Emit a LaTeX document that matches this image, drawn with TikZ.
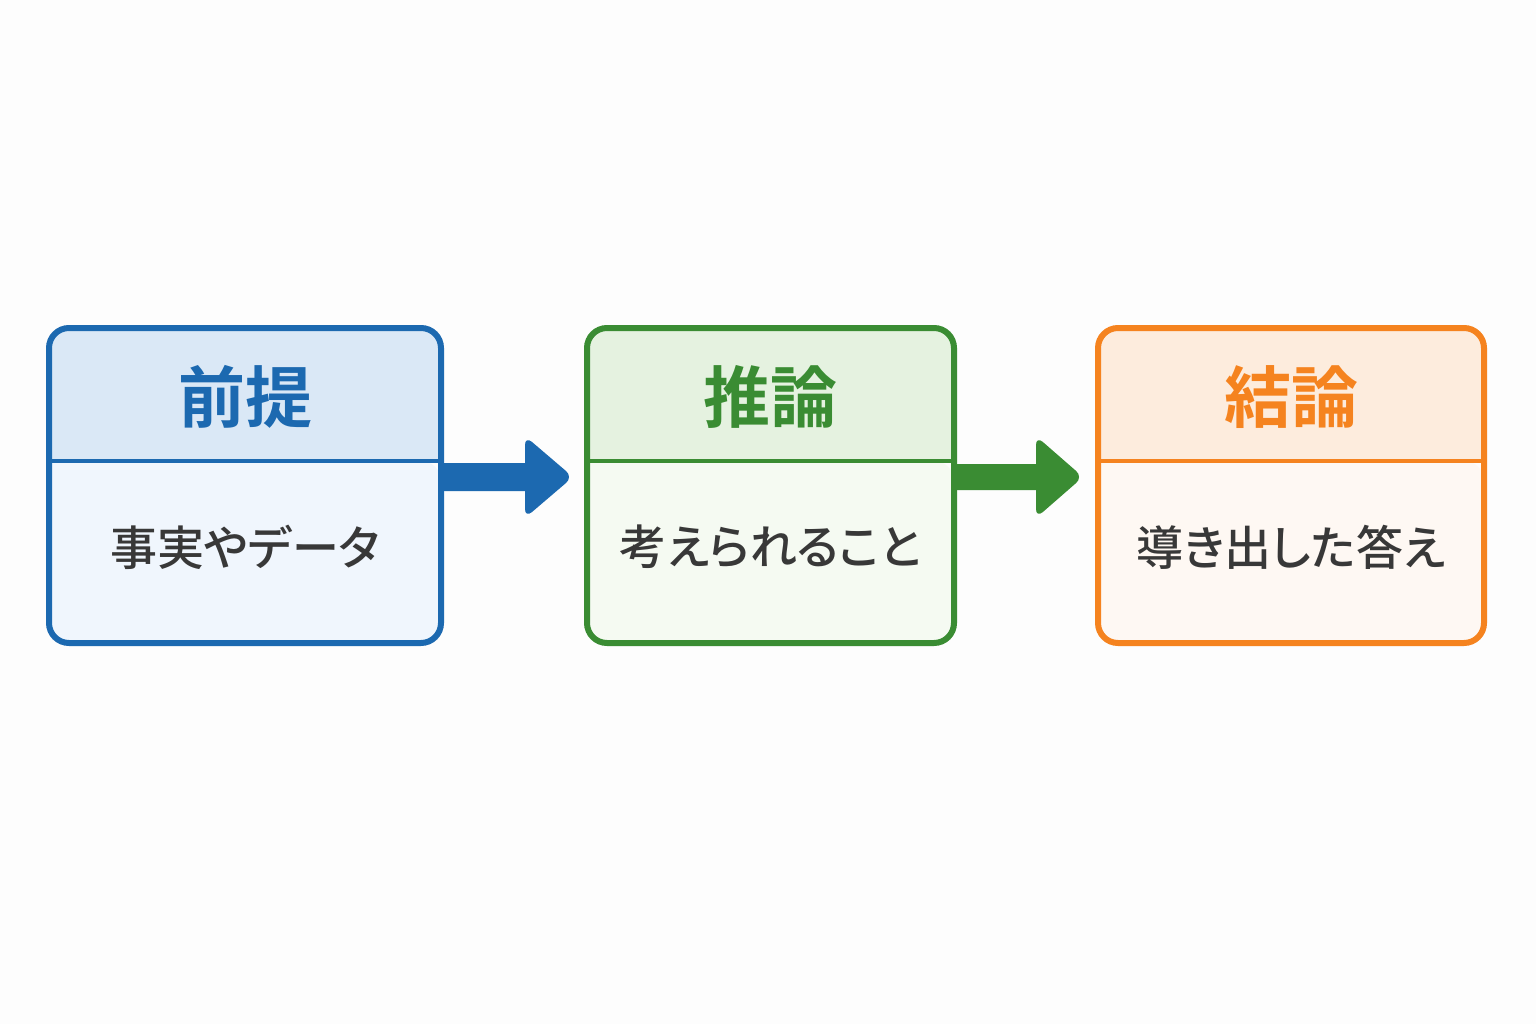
\documentclass[tikz,border=0pt]{standalone}
\usepackage{fontspec}
\usetikzlibrary{calc}
\newfontfamily\jpbold{Noto Sans CJK JP Bold}
\newfontfamily\jpmed{Noto Sans CJK JP Medium}[RawFeature=+palt]
\definecolor{bgc}{HTML}{FDFDFD}
\definecolor{blueM}{HTML}{1C69B0}
\definecolor{blueH}{HTML}{DAE8F6}
\definecolor{blueB}{HTML}{F0F6FD}
\definecolor{greenM}{HTML}{3A8C33}
\definecolor{greenH}{HTML}{E5F2E0}
\definecolor{greenB}{HTML}{F5FAF2}
\definecolor{orangeM}{HTML}{F5831F}
\definecolor{orangeH}{HTML}{FDECDD}
\definecolor{orangeB}{HTML}{FEF8F3}
\definecolor{textc}{HTML}{383838}
\tikzset{
  boxframe/.style={draw=#1, line width=6pt, rounded corners=20pt, inner sep=0pt, minimum height=315pt},
  titletext/.style={text=#1, font=\jpbold\fontsize{67}{72}\selectfont, inner sep=0pt},
  subtext/.style={text=textc, font=\jpmed\fontsize{47}{52}\selectfont, inner sep=0pt},
  arrowfill/.style={fill=#1, draw=none},
}
% #1 name, #2 x left, #3 x right, #4 main, #5 head fill, #6 body fill, #7 title, #8 sub
\newcommand\stagebox[8]{%
  \fill[#6, rounded corners=20pt] (#2,461) -- (#2,643) -- (#3,643) -- (#3,461) [sharp corners] -- cycle;
  \fill[#5] (#2,461) [rounded corners=20pt] -- (#2,328) -- (#3,328) [sharp corners] -- (#3,461) -- cycle;
  \pgfmathsetmacro\bw{#3-#2}
  \node[boxframe=#4, minimum width=\bw pt] (#1) at ({(#2+#3)/2},485.5) {};
  \draw[#4, line width=4pt] (#1.west |- 0,461) -- (#1.east |- 0,461);
  \node[titletext=#4] (#1-title) at ({(#2+#3)/2},397) {#7};
  \node[subtext] (#1-sub) at ({(#2+#3)/2},547) {#8};
}
\begin{document}
\begin{tikzpicture}[x=1pt,y=-1pt]
\fill[bgc] (0,0) rectangle (1536,1024);
\useasboundingbox (0,0) rectangle (1536,1024);
\stagebox{prem}{49}{441}{blueM}{blueH}{blueB}{前提}{事実やデータ}
\stagebox{infer}{587}{954}{greenM}{greenH}{greenB}{推論}{考えられること}
\stagebox{concl}{1098}{1484}{orangeM}{orangeH}{orangeB}{結論}{導き出した答え}
% arrows
\coordinate (a1) at (0,477);
\path[arrowfill=blueM] ($(prem.east |- a1)+(0,-14)$) -- (525,463) [rounded corners=9pt] -- (525,436) -- (573,477) -- (525,518) [sharp corners] -- (525,491) -- ($(prem.east |- a1)+(0,14)$) -- cycle;
\path[arrowfill=greenM] ($(infer.east |- a1)+(0,-13)$) -- (1036,464) [rounded corners=9pt] -- (1036,436) -- (1083,477) -- (1036,518) [sharp corners] -- (1036,490) -- ($(infer.east |- a1)+(0,13)$) -- cycle;
\end{tikzpicture}
\end{document}
